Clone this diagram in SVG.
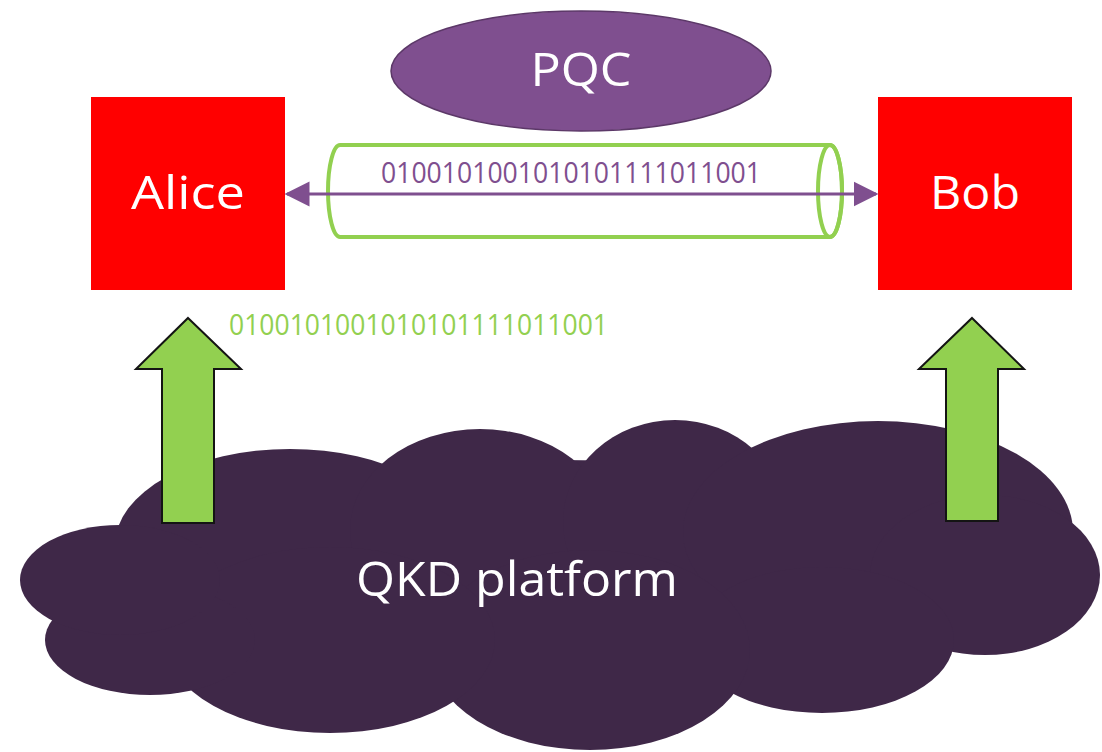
<svg xmlns="http://www.w3.org/2000/svg" width="1102" height="752" viewBox="0 0 1102 752">
  <defs>
    <style>
      .box { fill: #FF0000; }
      .lbl { font-family: "Open Sans", "Noto Sans", sans-serif; fill: #FFFFFF; text-anchor: middle; }
      .bits { font-family: "Open Sans", "Noto Sans", sans-serif; font-size: 30px; }
      .up { fill: #92D050; stroke: #141414; stroke-width: 2; stroke-linejoin: miter; }
      .cloud { fill: #3F2848; }
    </style>
    <marker id="head" viewBox="0 0 10 10" refX="9" refY="5" markerUnits="userSpaceOnUse" markerWidth="25" markerHeight="26" orient="auto-start-reverse">
      <path d="M0,0 L10,5 L0,10 Z" fill="#7F4F8F"/>
    </marker>
  </defs>

  <rect width="1102" height="752" fill="#FFFFFF"/>

  <!-- QKD platform cloud: union of overlapping lobes -->
  <g id="qkd-platform">
    <g class="cloud">
      <ellipse cx="560" cy="580" rx="450" ry="120"/>
      <ellipse cx="290" cy="545" rx="175" ry="96"/>
      <ellipse cx="480" cy="530" rx="130" ry="101"/>
      <ellipse cx="675" cy="522" rx="112" ry="102"/>
      <ellipse cx="878" cy="532" rx="195" ry="111"/>
      <ellipse cx="985" cy="575" rx="115" ry="80"/>
      <ellipse cx="822" cy="640" rx="132" ry="73"/>
      <ellipse cx="590" cy="650" rx="160" ry="100"/>
      <ellipse cx="330" cy="640" rx="165" ry="93"/>
      <ellipse cx="150" cy="640" rx="105" ry="55"/>
      <ellipse cx="120" cy="580" rx="100" ry="55"/>
    </g>
    <text class="lbl" x="517" y="596" font-size="48" textLength="322" lengthAdjust="spacingAndGlyphs">QKD platform</text>
  </g>

  <!-- key delivery arrows from the platform -->
  <g id="key-up-alice">
    <polygon class="up" points="188,318 241,369 214,369 214,523 162,523 162,369 136,369"/>
  </g>
  <g id="key-up-bob">
    <polygon class="up" points="972,318 1024,369 998,369 998,521 946,521 946,369 919,369"/>
  </g>

  <g id="qkd-key">
    <text class="bits" x="229" y="335" fill="#92D050" textLength="379" lengthAdjust="spacingAndGlyphs">0100101001010101111011001</text>
  </g>

  <!-- endpoints -->
  <g id="alice">
    <rect class="box" x="91" y="97" width="194" height="193"/>
    <text class="lbl" x="188" y="209" font-size="45" textLength="114" lengthAdjust="spacingAndGlyphs">Alice</text>
  </g>
  <g id="bob">
    <rect class="box" x="878" y="97" width="194" height="193"/>
    <text class="lbl" x="975" y="209" font-size="45" textLength="90" lengthAdjust="spacingAndGlyphs">Bob</text>
  </g>

  <g id="pqc">
    <ellipse cx="581" cy="71" rx="190" ry="60" fill="#7F4F8F" stroke="#5C3868" stroke-width="1.5"/>
    <text class="lbl" x="581" y="86" font-size="46" textLength="101" lengthAdjust="spacingAndGlyphs">PQC</text>
  </g>

  <!-- channel pipe -->
  <g id="channel">
    <path d="M340,145 L830,145 A12,46 0 0 1 830,237 L340,237 A12,46 0 0 1 340,145 Z" fill="#FFFFFF" stroke="#92D050" stroke-width="4"/>
    <ellipse cx="830" cy="191" rx="12" ry="46" fill="none" stroke="#92D050" stroke-width="4"/>
    <text class="bits" x="381" y="183" fill="#7F4F8F" textLength="380" lengthAdjust="spacingAndGlyphs">0100101001010101111011001</text>
  </g>

  <g id="connectors">
    <line x1="287" y1="194" x2="876" y2="194" stroke="#7F4F8F" stroke-width="3" marker-start="url(#head)" marker-end="url(#head)"/>
  </g>
</svg>
